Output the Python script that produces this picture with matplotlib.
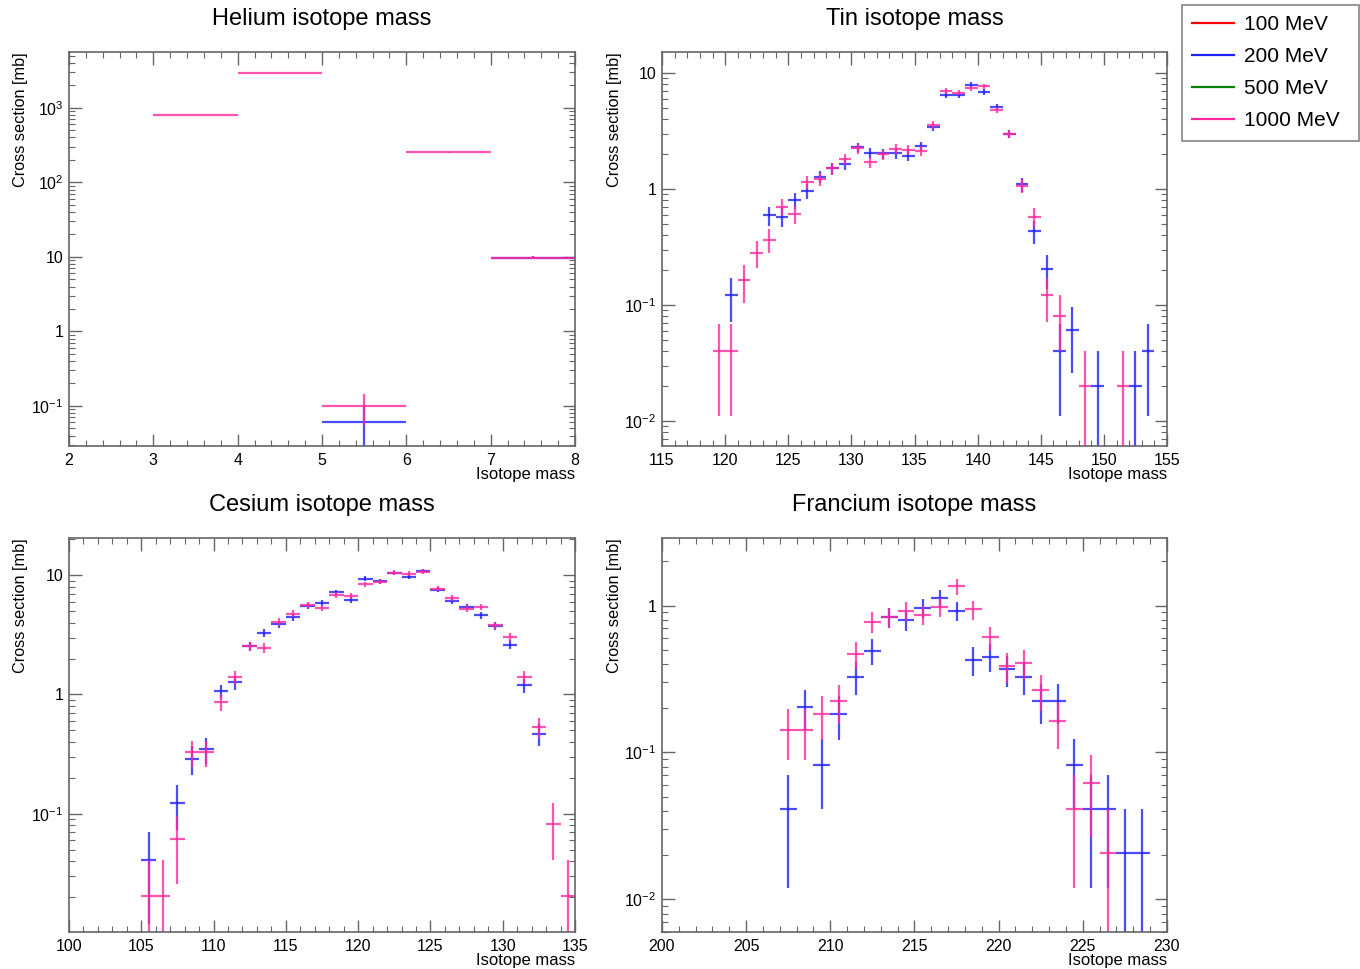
import numpy as np
import matplotlib
matplotlib.use('Agg')
import matplotlib.pyplot as plt
import matplotlib.ticker as ticker
from matplotlib.lines import Line2D

plt.rcParams['font.family'] = ['Liberation Sans', 'DejaVu Sans']
plt.rcParams['mathtext.fontset'] = 'custom'
plt.rcParams['mathtext.rm'] = 'Liberation Sans'
plt.rcParams['mathtext.it'] = 'Liberation Sans'

blue = '#1f1fff'
pink = '#ff2a9d'
energies = ['100 MeV', '200 MeV', '500 MeV', '1000 MeV']
energy_colors = ['red', blue, 'green', pink]

# Helium (bin centres, cross sections in mb, errors)
he_pink_x = [3.5, 4.5, 5.5, 6.5, 7.5]
he_pink_y = [805, 2950, 0.10, 253, 9.7]
he_pink_e = [4.0, 7.8, 0.045, 2.3, 0.44]
he_blue_x = [5.5, 7.5]
he_blue_y = [0.061, 9.8]
he_blue_e = [0.035, 0.44]

# Tin
sn_pink_x = [119.5, 120.5, 121.5, 122.5, 123.5, 124.5, 125.5, 126.5, 127.5, 128.5, 129.5, 130.5, 131.5, 132.5,
             133.5, 134.5, 135.5, 136.5, 137.5, 138.5, 139.5, 140.5, 141.5, 142.5, 143.5, 144.5, 145.5, 146.5,
             148.5, 151.5]
sn_pink_y = [0.040, 0.040, 0.163, 0.284, 0.366, 0.70, 0.61, 1.15, 1.23, 1.51, 1.80, 2.24, 1.70, 1.99,
             2.23, 2.17, 2.13, 3.57, 7.03, 6.80, 7.42, 7.67, 4.82, 2.99, 1.07, 0.575, 0.122, 0.081,
             0.020, 0.020]
sn_pink_e = [0.029, 0.029, 0.058, 0.076, 0.086, 0.119, 0.112, 0.153, 0.158, 0.175, 0.192, 0.214, 0.186, 0.201,
             0.213, 0.210, 0.208, 0.270, 0.379, 0.372, 0.389, 0.395, 0.313, 0.247, 0.148, 0.108, 0.050, 0.041,
             0.020, 0.020]
sn_blue_x = [120.5, 123.5, 124.5, 125.5, 126.5, 127.5, 128.5, 129.5, 130.5, 131.5, 132.5, 133.5, 134.5, 135.5,
             136.5, 137.5, 138.5, 139.5, 140.5, 141.5, 142.5, 143.5, 144.5, 145.5, 146.5, 147.5, 149.5, 152.5,
             153.5]
sn_blue_y = [0.122, 0.594, 0.575, 0.80, 0.966, 1.28, 1.51, 1.63, 2.29, 2.06, 2.03, 2.03, 1.93, 2.35,
             3.41, 6.46, 6.46, 7.93, 6.88, 5.12, 2.99, 1.10, 0.432, 0.204, 0.040, 0.061, 0.020, 0.020,
             0.040]
sn_blue_e = [0.050, 0.110, 0.108, 0.128, 0.140, 0.162, 0.175, 0.182, 0.216, 0.205, 0.203, 0.203, 0.198, 0.219,
             0.264, 0.363, 0.363, 0.402, 0.375, 0.323, 0.247, 0.150, 0.094, 0.065, 0.029, 0.035, 0.020, 0.020,
             0.029]

# Cesium
cs_pink_x = [105.5, 106.5, 107.5, 108.5, 109.5, 110.5, 111.5, 112.5, 113.5, 114.5, 115.5, 116.5, 117.5, 118.5,
             119.5, 120.5, 121.5, 122.5, 123.5, 124.5, 125.5, 126.5, 127.5, 128.5, 129.5, 130.5, 131.5, 132.5,
             133.5, 134.5]
cs_pink_y = [0.0204, 0.0204, 0.061, 0.329, 0.329, 0.865, 1.40, 2.54, 2.47, 4.06, 4.77, 5.67, 5.32, 6.80,
             6.71, 8.40, 8.79, 10.5, 10.3, 10.7, 7.73, 6.45, 5.25, 5.39, 3.80, 3.05, 1.39, 0.533,
             0.082, 0.0204]
cs_pink_e = [0.0204, 0.0204, 0.035, 0.082, 0.082, 0.133, 0.169, 0.228, 0.224, 0.288, 0.312, 0.340, 0.329, 0.372,
             0.370, 0.414, 0.423, 0.463, 0.458, 0.467, 0.397, 0.363, 0.327, 0.332, 0.278, 0.249, 0.168, 0.104,
             0.041, 0.0204]
cs_blue_x = [105.5, 107.5, 108.5, 109.5, 110.5, 111.5, 112.5, 113.5, 114.5, 115.5, 116.5, 117.5, 118.5, 119.5,
             120.5, 121.5, 122.5, 123.5, 124.5, 125.5, 126.5, 127.5, 128.5, 129.5, 130.5, 131.5, 132.5]
cs_blue_y = [0.041, 0.123, 0.290, 0.347, 1.06, 1.26, 2.55, 3.30, 3.88, 4.47, 5.56, 5.86, 7.16, 6.25,
             9.38, 8.91, 10.4, 9.74, 10.9, 7.58, 6.12, 5.42, 4.64, 3.76, 2.62, 1.19, 0.469]
cs_blue_e = [0.029, 0.050, 0.077, 0.084, 0.147, 0.160, 0.228, 0.259, 0.281, 0.302, 0.337, 0.346, 0.382, 0.357,
             0.437, 0.426, 0.460, 0.446, 0.471, 0.393, 0.353, 0.332, 0.308, 0.277, 0.231, 0.156, 0.098]

# Francium
fr_pink_x = [207.5, 208.5, 209.5, 210.5, 211.5, 212.5, 213.5, 214.5, 215.5, 216.5, 217.5, 218.5, 219.5, 220.5,
             221.5, 222.5, 223.5, 224.5, 225.5, 226.5]
fr_pink_y = [0.143, 0.143, 0.183, 0.223, 0.468, 0.775, 0.83, 0.92, 0.865, 0.98, 1.35, 0.94, 0.607, 0.386,
             0.408, 0.264, 0.163, 0.041, 0.0615, 0.0206]
fr_pink_e = [0.054, 0.054, 0.061, 0.067, 0.098, 0.126, 0.130, 0.137, 0.133, 0.141, 0.166, 0.138, 0.111, 0.089,
             0.091, 0.073, 0.058, 0.029, 0.035, 0.0206]
fr_blue_x = [207.5, 208.5, 209.5, 210.5, 211.5, 212.5, 213.5, 214.5, 215.5, 216.5, 217.5, 218.5, 219.5, 220.5,
             221.5, 222.5, 223.5, 224.5, 225.5, 226.5, 227.5, 228.5]
fr_blue_y = [0.041, 0.203, 0.082, 0.183, 0.328, 0.493, 0.83, 0.796, 0.96, 1.12, 0.92, 0.426, 0.449, 0.368,
             0.328, 0.225, 0.225, 0.082, 0.041, 0.041, 0.0206, 0.0206]
fr_blue_e = [0.029, 0.064, 0.041, 0.061, 0.082, 0.100, 0.130, 0.127, 0.140, 0.151, 0.137, 0.093, 0.096, 0.087,
             0.082, 0.068, 0.068, 0.041, 0.029, 0.029, 0.0206, 0.0206]

W, H = 1360, 969
fig = plt.figure(figsize=(W / 100, H / 100), dpi=100)


def log_label(v, pos):
    if abs(v - 1) < 1e-9:
        return '1'
    if abs(v - 10) < 1e-9:
        return '10'
    return r'$10^{%d}$' % int(round(np.log10(v)))


panels = [
    # title, box (left, top, right, bottom in px), xlim, ylim, xminor, series
    ('Helium isotope mass', (69, 52, 575, 446), (2, 8), (0.029, 5600), 0.2,
     [(he_blue_x, he_blue_y, he_blue_e), (he_pink_x, he_pink_y, he_pink_e)]),
    ('Tin isotope mass', (662, 52, 1167, 446), (115, 155), (0.0061, 15.2), 1,
     [(sn_blue_x, sn_blue_y, sn_blue_e), (sn_pink_x, sn_pink_y, sn_pink_e)]),
    ('Cesium isotope mass', (69, 538, 575, 932), (100, 135), (0.0102, 20.5), 1,
     [(cs_blue_x, cs_blue_y, cs_blue_e), (cs_pink_x, cs_pink_y, cs_pink_e)]),
    ('Francium isotope mass', (662, 538, 1167, 932), (200, 230), (0.006, 2.88), 1,
     [(fr_blue_x, fr_blue_y, fr_blue_e), (fr_pink_x, fr_pink_y, fr_pink_e)]),
]

for title, (l, t, r, b), xlim, ylim, xminor, series in panels:
    ax = fig.add_axes([l / W, 1 - b / H, (r - l) / W, (b - t) / H])
    ax.set_yscale('log', nonpositive='clip')
    for (xs, ys, es), col in zip(series, [blue, pink]):
        ax.errorbar(xs, ys, xerr=0.5, yerr=es, fmt='none', ecolor=col, elinewidth=1.6, alpha=0.8)
    ax.set_xlim(*xlim)
    ax.set_ylim(*ylim)
    ax.xaxis.set_minor_locator(ticker.MultipleLocator(xminor))
    ax.yaxis.set_major_locator(ticker.LogLocator(base=10, numticks=15))
    ax.yaxis.set_minor_locator(ticker.LogLocator(base=10, subs=np.arange(2, 10), numticks=15))
    ax.yaxis.set_major_formatter(ticker.FuncFormatter(log_label))
    ax.yaxis.set_minor_formatter(ticker.NullFormatter())
    ax.tick_params(which='both', direction='in', top=True, right=True, color='#666666', labelsize=11.5)
    ax.tick_params(which='major', length=9, width=1)
    ax.tick_params(which='minor', length=4.5, width=0.8)
    ax.tick_params(axis='y', pad=4)
    ax.tick_params(axis='x', pad=5)
    for s in ax.spines.values():
        s.set_color('#666666')
        s.set_linewidth(1.2)
    # titles and axis labels, ROOT style
    fig.text((l + r) / 2 / W, 1 - (t - 33) / H, title, ha='center', va='center', fontsize=17)
    fig.text((l - 48) / W, 1 - t / H, 'Cross section [mb]', rotation=90, ha='center', va='top', fontsize=11.7)
    fig.text(r / W, 1 - (b + 28) / H, 'Isotope mass', ha='right', va='center', fontsize=12)

handles = [Line2D([], [], color=c, lw=1.6) for c in energy_colors]
leg = fig.legend(handles, energies, loc='upper left', bbox_to_anchor=(1182 / W, 1 - 138 / H, 177 / W, 133 / H),
                 mode='expand', fontsize=15, frameon=True, fancybox=False, borderaxespad=0, handlelength=2.0,
                 labelspacing=0.62, borderpad=0.5, handletextpad=0.5)
leg.get_frame().set_edgecolor('#666666')
leg.get_frame().set_linewidth(1.2)

plt.savefig('out.png', dpi=100)
